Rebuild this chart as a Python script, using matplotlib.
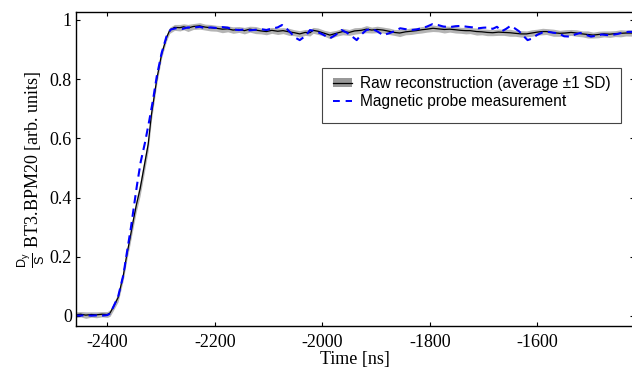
import numpy as np
import matplotlib
matplotlib.use("Agg")
import matplotlib.pyplot as plt
from matplotlib.patches import Patch, Rectangle
from matplotlib.lines import Line2D

plt.rcParams['font.family'] = ['Liberation Serif', 'DejaVu Serif']
plt.rcParams['axes.unicode_minus'] = False
plt.rcParams['mathtext.fontset'] = 'custom'
plt.rcParams['mathtext.rm'] = 'Liberation Sans'
plt.rcParams['mathtext.it'] = 'Liberation Sans'

# raw reconstruction: average and 1 SD
avg_t = [-2460, -2450, -2440, -2430, -2420, -2410, -2400, -2395, -2389, -2380,
         -2377, -2370, -2364, -2358, -2352, -2346, -2339, -2332, -2324, -2318,
         -2308, -2299, -2290, -2284, -2275, -2265, -2258, -2250, -2240, -2228,
         -2218, -2208, -2197, -2186, -2176, -2166, -2155, -2145, -2135, -2124,
         -2114, -2104, -2094, -2083, -2073, -2062, -2052, -2042, -2032, -2023,
         -2017, -2008, -1996, -1986, -1974, -1962, -1950, -1940, -1928, -1918,
         -1908, -1898, -1887, -1876, -1866, -1856, -1845, -1835, -1825, -1815,
         -1805, -1794, -1784, -1773, -1763, -1752, -1742, -1733, -1725, -1713,
         -1703, -1693, -1683, -1672, -1662, -1651, -1641, -1630, -1620, -1610,
         -1600, -1590, -1583, -1570, -1558, -1548, -1537, -1527, -1516, -1506,
         -1496, -1486, -1476, -1465, -1455, -1445, -1435, -1418]
avg_v = [0.004, 0.006, 0.003, 0.005, 0.004, 0.006, 0.005, 0.010, 0.030, 0.062,
         0.085, 0.140, 0.205, 0.260, 0.320, 0.375, 0.430, 0.500, 0.580, 0.680,
         0.800, 0.885, 0.940, 0.965, 0.975, 0.974, 0.977, 0.973, 0.978, 0.980,
         0.976, 0.974, 0.972, 0.969, 0.970, 0.966, 0.968, 0.964, 0.969, 0.966,
         0.963, 0.961, 0.965, 0.962, 0.964, 0.960, 0.957, 0.953, 0.958, 0.957,
         0.965, 0.962, 0.955, 0.949, 0.955, 0.961, 0.958, 0.963, 0.965, 0.969,
         0.966, 0.968, 0.966, 0.962, 0.958, 0.956, 0.960, 0.962, 0.964, 0.967,
         0.969, 0.972, 0.970, 0.968, 0.969, 0.967, 0.965, 0.964, 0.964, 0.961,
         0.960, 0.958, 0.957, 0.959, 0.958, 0.957, 0.955, 0.953, 0.953, 0.956,
         0.959, 0.961, 0.961, 0.957, 0.955, 0.956, 0.958, 0.956, 0.953, 0.951,
         0.949, 0.951, 0.953, 0.952, 0.954, 0.955, 0.956, 0.956]
avg_sd = [0.010, 0.009, 0.011, 0.009, 0.010, 0.009, 0.010, 0.011, 0.012, 0.014,
          0.015, 0.016, 0.018, 0.020, 0.022, 0.022, 0.024, 0.024, 0.022, 0.020,
          0.016, 0.013, 0.011, 0.010, 0.010, 0.011, 0.010, 0.012, 0.010, 0.011,
          0.010, 0.011, 0.010, 0.012, 0.010, 0.011, 0.010, 0.011, 0.010, 0.012,
          0.010, 0.011, 0.010, 0.011, 0.010, 0.012, 0.010, 0.011, 0.010, 0.011,
          0.010, 0.011, 0.010, 0.012, 0.010, 0.011, 0.010, 0.011, 0.010, 0.012,
          0.010, 0.011, 0.010, 0.011, 0.010, 0.012, 0.010, 0.011, 0.010, 0.011,
          0.010, 0.011, 0.010, 0.012, 0.010, 0.011, 0.010, 0.011, 0.010, 0.012,
          0.010, 0.011, 0.010, 0.011, 0.010, 0.012, 0.010, 0.011, 0.010, 0.011,
          0.010, 0.011, 0.010, 0.012, 0.010, 0.011, 0.010, 0.011, 0.010, 0.012,
          0.010, 0.011, 0.010, 0.011, 0.010, 0.012, 0.010, 0.011]

# magnetic probe measurement
probe_t = [-2460, -2450, -2440, -2430, -2420, -2410, -2400, -2395, -2389, -2380,
           -2370, -2364, -2356, -2345, -2338, -2330, -2322, -2315, -2308, -2299,
           -2290, -2282, -2272, -2260, -2250, -2240, -2228, -2218, -2208, -2197,
           -2186, -2176, -2166, -2155, -2145, -2135, -2124, -2114, -2104, -2094,
           -2083, -2075, -2066, -2058, -2050, -2042, -2030, -2023, -2012, -2000,
           -1986, -1975, -1964, -1955, -1945, -1936, -1928, -1918, -1908, -1898,
           -1887, -1876, -1866, -1855, -1845, -1835, -1825, -1815, -1805, -1795,
           -1785, -1775, -1763, -1752, -1742, -1730, -1720, -1710, -1700, -1690,
           -1683, -1675, -1666, -1658, -1650, -1642, -1634, -1625, -1618, -1610,
           -1600, -1590, -1580, -1570, -1560, -1550, -1540, -1528, -1520, -1510,
           -1500, -1490, -1480, -1470, -1460, -1450, -1440, -1430, -1418]
probe_v = [0.002, 0.001, 0.003, 0.001, 0.002, 0.001, 0.003, 0.008, 0.030, 0.065,
           0.140, 0.210, 0.300, 0.440, 0.520, 0.585, 0.660, 0.730, 0.810, 0.888,
           0.944, 0.968, 0.972, 0.970, 0.975, 0.974, 0.977, 0.972, 0.975, 0.973,
           0.976, 0.974, 0.968, 0.966, 0.968, 0.965, 0.967, 0.969, 0.966, 0.971,
           0.975, 0.983, 0.970, 0.955, 0.940, 0.932, 0.948, 0.966, 0.962, 0.952,
           0.938, 0.950, 0.966, 0.958, 0.945, 0.932, 0.950, 0.966, 0.970, 0.962,
           0.949, 0.955, 0.962, 0.972, 0.969, 0.966, 0.968, 0.972, 0.978, 0.986,
           0.983, 0.978, 0.976, 0.979, 0.980, 0.977, 0.975, 0.972, 0.974, 0.975,
           0.970, 0.977, 0.962, 0.970, 0.980, 0.972, 0.962, 0.945, 0.932, 0.937,
           0.950, 0.958, 0.960, 0.957, 0.955, 0.945, 0.944, 0.952, 0.956, 0.950,
           0.944, 0.947, 0.951, 0.949, 0.950, 0.953, 0.958, 0.960, 0.960]

xticks = [-2400, -2200, -2000, -1800, -1600]
yticks = [0, 0.2, 0.4, 0.6, 0.8, 1]
ytick_labels = ['0', '0.2', '0.4', '0.6', '0.8', '1']

avg_t = np.array(avg_t)
avg_v = np.array(avg_v)
avg_sd = np.array(avg_sd)

fig = plt.figure(figsize=(6.32, 3.71), dpi=100)
ax = fig.add_axes([76/632, 45/371, 558/632, 314/371])

ax.fill_between(avg_t, avg_v - avg_sd, avg_v + avg_sd, color='#b4b4b4', lw=0)
ax.plot(avg_t, avg_v, color='k', lw=0.9)
ax.plot(probe_t, probe_v, color='#0000ff', lw=1.5, dashes=(4, 2.5))

ax.set_xlim(-2458.3, -1420)
ax.set_ylim(-0.0338, 1.027)
ax.set_xticks(xticks)
ax.set_yticks(yticks)
ax.set_yticklabels(ytick_labels)
ax.tick_params(direction='in', length=3, width=0.8, top=True, right=True,
               labelsize=13, pad=3)
ax.tick_params(axis='x', pad=6)
for s in ax.spines.values():
    s.set_linewidth(1.0)

ax.set_xlabel('Time [ns]', fontsize=13, labelpad=0)
ax.set_ylabel(r'$\frac{\mathrm{D}_\mathrm{y}}{\mathrm{S}}$ BT3.BPM20 [arb. units]',
              fontsize=13, labelpad=2)

# legend
h1 = (Patch(facecolor='#999999', edgecolor='none'), Line2D([], [], color='k', lw=0.9))
h2 = Line2D([], [], color='#0000ff', lw=1.4, dashes=(3.5, 3))
leg = ax.legend([h1, h2], ['Raw reconstruction (average \u00b11 SD)',
                           'Magnetic probe measurement'],
                loc='upper left', bbox_to_anchor=((333 - 76)/558, (326 - 76)/314),
                frameon=False, borderaxespad=0, borderpad=0,
                prop={'family': 'Liberation Sans', 'size': 11.2},
                handlelength=1.25, handletextpad=0.5, labelspacing=0.2,
                handleheight=0.5)
fig.add_artist(Rectangle((322/632, (371 - 123)/371), 299/632, 55/371,
                         transform=fig.transFigure, fill=False,
                         edgecolor='#444444', lw=0.8))

fig.savefig('out.png', dpi=100)
